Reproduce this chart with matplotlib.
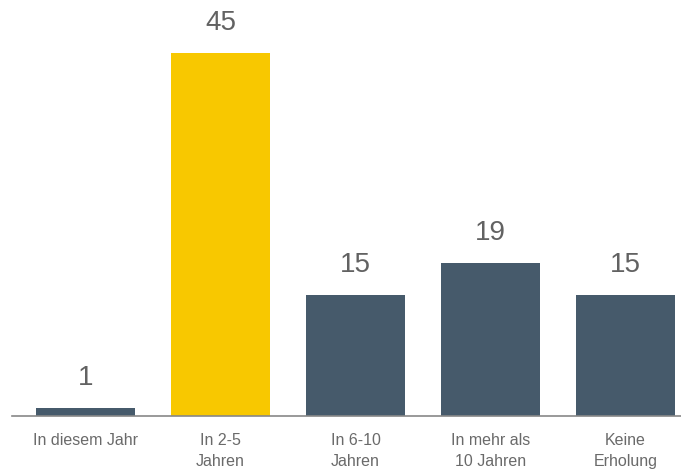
import matplotlib.pyplot as plt
import numpy as np

categories = ['In diesem Jahr', 'In 2-5\nJahren', 'In 6-10\nJahren', 'In mehr als\n10 Jahren', 'Keine\nErholung']
values = [1, 45, 15, 19, 15]
colors = ['#465a6b', '#f8c800', '#465a6b', '#465a6b', '#465a6b']

plt.rcParams['font.family'] = ['Liberation Sans', 'DejaVu Sans']

fig = plt.figure(figsize=(6.81, 4.70), dpi=100)
ax = fig.add_axes([12 / 681, 54 / 470, 669 / 681, 416 / 470])

x = np.arange(len(values))
bars = ax.bar(x, values, width=0.735, color=colors)

for xi, v in zip(x, values):
    ax.annotate(str(v), (xi, v), xytext=(0, 17), textcoords='offset pixels',
                ha='center', va='bottom', fontsize=20, color='#626262')

ax.set_xlim(-0.545, 4.41)
ax.set_ylim(0, 51.5)

for s in ['top', 'right', 'left']:
    ax.spines[s].set_visible(False)
ax.spines['bottom'].set_color('#888888')
ax.spines['bottom'].set_linewidth(1.2)

ax.set_yticks([])
ax.set_xticks(x)
ax.set_xticklabels(categories, fontsize=11.5, color='#6a6a6a', linespacing=1.45)
ax.tick_params(axis='x', length=0, pad=12.5)

fig.savefig('out.png', dpi=100)
